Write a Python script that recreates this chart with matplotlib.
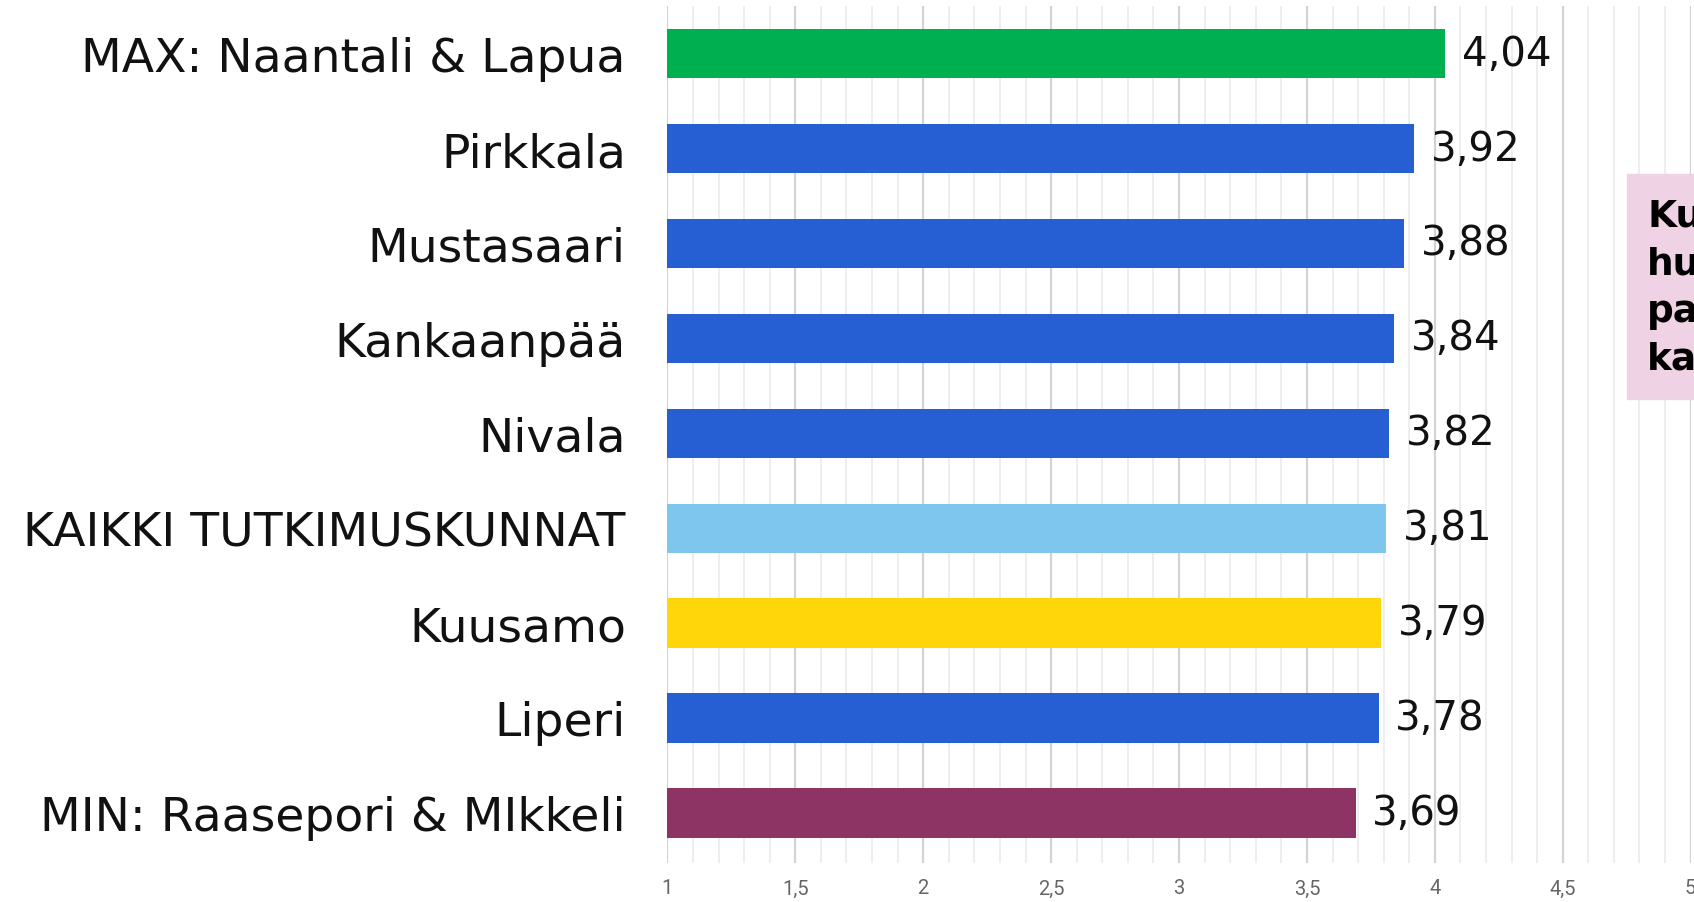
import matplotlib
matplotlib.use("Agg")
import matplotlib.pyplot as plt
from matplotlib.ticker import MultipleLocator, FuncFormatter

categories = ["MAX: Naantali & Lapua", "Pirkkala", "Mustasaari", "Kankaanpää",
              "Nivala", "KAIKKI TUTKIMUSKUNNAT", "Kuusamo", "Liperi",
              "MIN: Raasepori & MIkkeli"]
values = [4.04, 3.92, 3.88, 3.84, 3.82, 3.81, 3.79, 3.78, 3.69]
colors = ["#00AF50", "#265FD3", "#265FD3", "#265FD3", "#265FD3",
          "#7FC6EF", "#FFD60A", "#265FD3", "#8E3465"]
xticks = [1, 1.5, 2, 2.5, 3, 3.5, 4, 4.5, 5]
note_text = "Ku\nhu\npa\nka"

fig = plt.figure(figsize=(16.94, 9.03), dpi=100)
ax = fig.add_axes([0.394, 0.043, 0.604, 0.949])

pos = list(range(len(categories)))
ax.barh(pos, [v - 1 for v in values], left=1, height=0.52, color=colors, zorder=3)

ax.set_xlim(1, 5)
ax.set_ylim(len(categories) - 0.47, -0.5)
ax.set_xticks(xticks)
ax.xaxis.set_minor_locator(MultipleLocator(0.1))
ax.xaxis.set_major_formatter(FuncFormatter(lambda v, p: ("%g" % v).replace(".", ",")))
ax.grid(axis="x", which="major", color="#d2d2d2", linewidth=1.6, zorder=0)
ax.grid(axis="x", which="minor", color="#eeeeee", linewidth=1.4, zorder=0)
for s in ax.spines.values():
    s.set_visible(False)
ax.tick_params(axis="x", which="both", length=0, pad=11, labelsize=14.5,
               labelcolor="#666666")
for lab in ax.get_xticklabels():
    lab.set_family(["Liberation Sans Narrow", "Roboto"])

ax.set_yticks(pos)
ax.set_yticklabels(categories, fontsize=34, family="DejaVu Sans", color="#111111")
ax.tick_params(axis="y", length=0, pad=30)

for p, v in zip(pos, values):
    ax.text(v + 0.066, p, ("%.2f" % v).replace(".", ","), va="center", ha="left",
            fontsize=29, family="DejaVu Sans", color="#111111", zorder=4)

fig.patches.append(plt.Rectangle((1627 / 1694, 1 - 400 / 903), 0.1, (400 - 175) / 903,
                                 transform=fig.transFigure, color="#EFD2E3", zorder=5))
fig.text(1647 / 1694, 1 - 288 / 903, note_text, fontsize=27, fontweight="bold",
         family="DejaVu Sans", va="center", ha="left", linespacing=1.42, zorder=6)

fig.savefig("out.png", dpi=100)
